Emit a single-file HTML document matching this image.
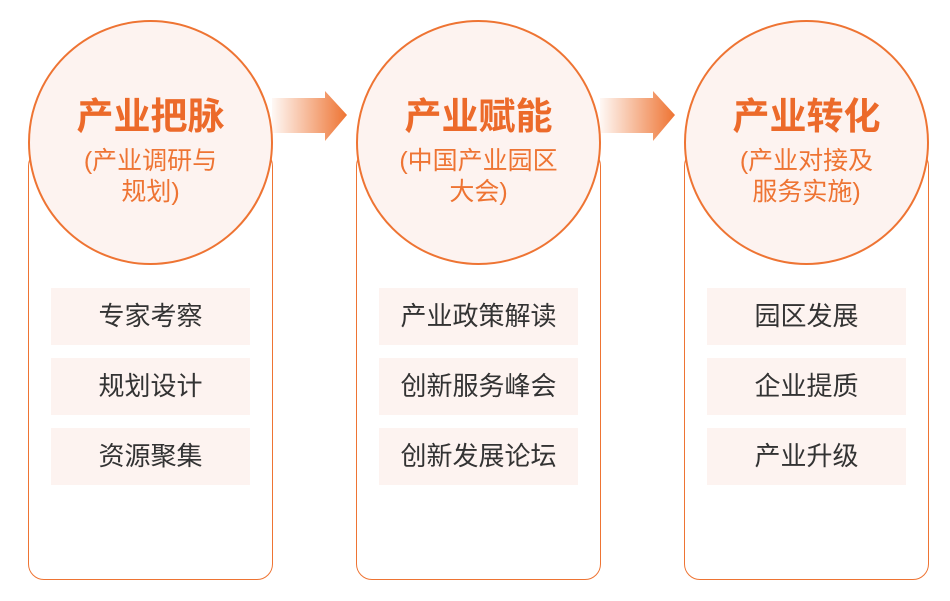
<!DOCTYPE html>
<html><head><meta charset="utf-8"><style>
html,body{margin:0;padding:0;background:#fff;}
body{width:950px;height:601px;position:relative;overflow:hidden;font-family:"Liberation Sans","Noto Sans CJK SC",sans-serif;}
.box{position:absolute;top:150px;width:245px;height:430px;border:1.5px solid #ee7433;border-radius:16px;background:#fff;box-sizing:border-box;}
.circ{position:absolute;top:20px;width:245px;height:245px;border:2.5px solid #ee7433;border-radius:50%;background:#fdf3f0;box-sizing:border-box;text-align:center;}
.t{position:absolute;top:73px;left:-20px;right:-20px;font-size:37px;font-weight:bold;color:#ec6a2a;line-height:44px;}
.s{position:absolute;top:124px;left:-20px;right:-20px;font-size:25px;color:#ee7433;line-height:31px;}
.it{position:absolute;width:199px;height:57px;background:#fdf3f0;font-size:26px;color:#333;text-align:center;line-height:57px;}
svg{position:absolute;left:0;top:0;}
</style></head><body>
<div class="box" style="left:28px"></div>
<div class="box" style="left:356px"></div>
<div class="box" style="left:684px"></div>
<svg width="950" height="601">
<defs><linearGradient id="g" x1="0" x2="1"><stop offset="0" stop-color="#ee7433" stop-opacity="0.05"/><stop offset="1" stop-color="#ee7433"/></linearGradient></defs>
<polygon points="272,98 325,98 325,91 347,115 325,141 325,133 272,133" fill="url(#g)"/>
<polygon points="600,98 653,98 653,91 675,115 653,141 653,133 600,133" fill="url(#g)"/>
</svg>
<div class="circ" style="left:28px"><div class="t">产业把脉</div><div class="s">(产业调研与<br>规划)</div></div>
<div class="circ" style="left:356px"><div class="t">产业赋能</div><div class="s">(中国产业园区<br>大会)</div></div>
<div class="circ" style="left:684px"><div class="t">产业转化</div><div class="s">(产业对接及<br>服务实施)</div></div>
<div class="it" style="left:51px;top:288px">专家考察</div>
<div class="it" style="left:51px;top:358px">规划设计</div>
<div class="it" style="left:51px;top:428px">资源聚集</div>
<div class="it" style="left:379px;top:288px">产业政策解读</div>
<div class="it" style="left:379px;top:358px">创新服务峰会</div>
<div class="it" style="left:379px;top:428px">创新发展论坛</div>
<div class="it" style="left:707px;top:288px">园区发展</div>
<div class="it" style="left:707px;top:358px">企业提质</div>
<div class="it" style="left:707px;top:428px">产业升级</div>
</body></html>
